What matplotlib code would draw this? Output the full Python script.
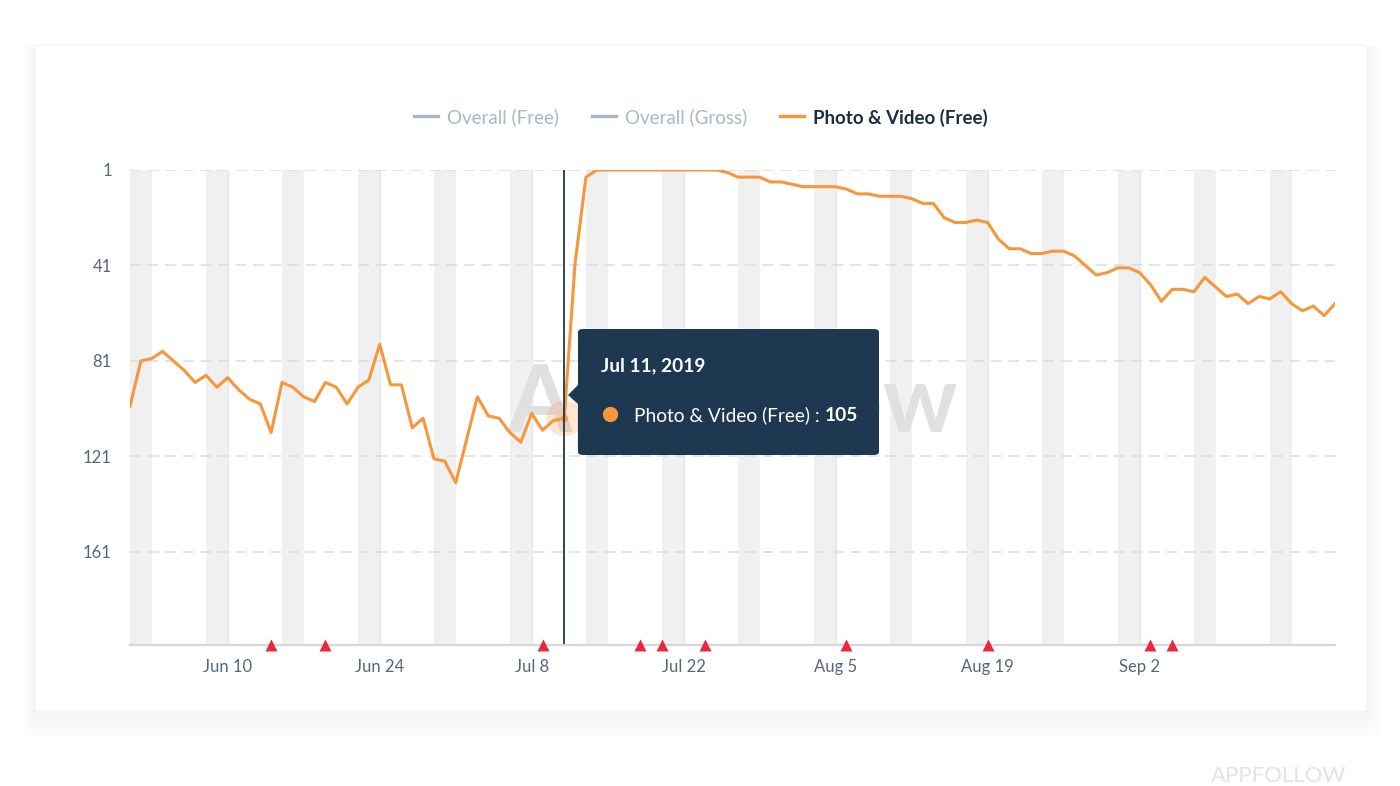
import matplotlib
matplotlib.use("Agg")
import matplotlib.pyplot as plt
from matplotlib.patches import FancyBboxPatch, Polygon
from matplotlib.lines import Line2D
import pandas as pd

plt.rcParams['font.family'] = ['Lato', 'DejaVu Sans']

# ---------------- data ----------------
start_date = "2019-06-01"
end_date = "2019-09-20"
ranks = [
    100, 81, 80, 77, 81, 85, 90, 87, 92, 88, 93, 97, 99, 111, 90, 92, 96, 98, 90, 92, 99, 92,
    89, 74, 91, 91, 109, 105, 122, 123, 132, 114, 96, 104, 105, 111, 115, 103, 110, 106, 105,
    40, 4,
    1, 1, 1, 1, 1, 1, 1, 1, 1, 1, 1, 1,
    2, 4, 4, 4, 6, 6, 7, 8, 8, 8, 8, 9, 11, 11, 12, 12, 12, 13, 15, 15,
    21, 23, 23, 22, 23, 30, 34, 34, 36, 36, 35, 35, 37, 41, 45, 44, 42, 42, 44, 49,
    56, 51, 51, 52, 46, 50, 54, 53, 57, 54, 55, 52, 57, 60, 58, 62, 57,
]
event_dates = ["2019-06-14", "2019-06-19", "2019-07-09", "2019-07-18", "2019-07-20",
               "2019-07-24", "2019-08-06", "2019-08-19", "2019-09-03", "2019-09-05"]
xtick_dates = ["2019-06-10", "2019-06-24", "2019-07-08", "2019-07-22",
               "2019-08-05", "2019-08-19", "2019-09-02"]
xtick_labels = ["Jun 10", "Jun 24", "Jul 8", "Jul 22", "Aug 5", "Aug 19", "Sep 2"]
ytick_values = [1, 41, 81, 121, 161]
legend_labels = ["Overall (Free)", "Overall (Gross)", "Photo & Video (Free)"]
tooltip_index = 40
series_name = "Photo & Video (Free)"

dates = pd.date_range(start_date, end_date, freq="D")

# ---------------- styles ----------------
W, H = 1400, 786
ORANGE = "#F7963B"
NAVY = "#1D3850"
TICK_C = "#56677D"
GREY_LEG = "#AAB6C9"

def fx(px):
    return px / W

def fy(py):
    return 1 - py / H

fig = plt.figure(figsize=(14, 7.86), dpi=100)
fig.patch.set_facecolor("white")

# card shadow (soft, mostly below)
for k in range(12):
    g = k * 2.0
    sh = FancyBboxPatch((fx(35 - g * 0.6), fy(712 + g * 1.3)), (1332 + 1.2 * g) / W,
                        (667 + g * 1.3) / H,
                        boxstyle="round,pad=0,rounding_size=0.008", transform=fig.transFigure,
                        fc="#000000", ec="none", alpha=0.0045, zorder=-3)
    fig.patches.append(sh)
card = FancyBboxPatch((fx(35), fy(712)), 1332 / W, 667 / H,
                      boxstyle="round,pad=0,rounding_size=0.004", transform=fig.transFigure,
                      fc="white", ec="#f4f4f4", lw=0.8, zorder=-1)
fig.patches.append(card)

ax = fig.add_axes([fx(130), fy(645), (1335 - 130) / W, (645 - 170) / H])
ax.patch.set_alpha(0)

# weekend bands
for d in dates:
    if d.weekday() == 5:
        ax.axvspan(d, d + pd.Timedelta(days=2), color="#F0F0F0", lw=0, zorder=0)

# vertical grid at ticks
xt = pd.to_datetime(xtick_dates)
for d in xt:
    ax.axvline(d, color="#E4E7EB", lw=1, zorder=0.5)

# horizontal dashed grid
for v in ytick_values:
    ax.axhline(v, color="#DCDCDC", lw=1.1, linestyle=(0, (7, 4.5)), zorder=0.6)

# watermark
ax.text(0.5, 0.505, "AppFollow", transform=ax.transAxes, ha="center", va="center",
        fontsize=67, fontweight="bold", color="#E0E0E0", zorder=1)

# series
ax.plot(dates, ranks, color=ORANGE, lw=2.2, zorder=3, solid_joinstyle="round")

# cursor
ax.axvline(dates[tooltip_index], color=NAVY, lw=1.3, zorder=4)
ax.plot(dates[tooltip_index], ranks[tooltip_index], "o", ms=26, color=ORANGE, alpha=0.22,
        mec="none", zorder=3.5)
ax.plot(dates[tooltip_index], ranks[tooltip_index], "o", ms=5, color=ORANGE, mec="none", zorder=3.6)

# events
ev = pd.to_datetime(event_dates)
ax.plot(ev, [200] * len(ev), "^", color="#E8283C", ms=9, mec="none", clip_on=False, zorder=6)

ax.set_xlim(dates[0], dates[-1])
ax.set_ylim(200, 1)
ax.set_xticks(xt)
ax.set_xticklabels(xtick_labels)
ax.set_yticks(ytick_values)
ax.set_yticklabels([str(v) for v in ytick_values])
ax.tick_params(axis="both", length=0, colors=TICK_C, labelsize=12)
ax.tick_params(axis="x", pad=10)
ax.tick_params(axis="y", pad=13)
for s in ["top", "right", "left"]:
    ax.spines[s].set_visible(False)
ax.spines["bottom"].set_color("#CFD8E3")
ax.spines["bottom"].set_linewidth(1.6)
ax.spines["bottom"].set_zorder(5)

# legend
leg_items = [(414, legend_labels[0], GREY_LEG, GREY_LEG, "normal"),
             (592, legend_labels[1], GREY_LEG, GREY_LEG, "normal"),
             (780, legend_labels[2], ORANGE, "#1B2D42", "bold")]
for x0, lab, lc, tc, fw in leg_items:
    fig.lines.append(Line2D([fx(x0), fx(x0 + 24)], [fy(116), fy(116)], transform=fig.transFigure,
                            color=lc, lw=2.4))
    fig.text(fx(x0 + 33), fy(116), lab, color=tc, fontsize=13.5, fontweight=fw,
             ha="left", va="center_baseline")

# tooltip
tip = FancyBboxPatch((fx(578), fy(455)), (879 - 578) / W, (455 - 329) / H,
                     boxstyle="round,pad=0,rounding_size=0.004", transform=fig.transFigure,
                     fc=NAVY, ec="none", zorder=10)
fig.patches.append(tip)
arrow = Polygon([[fx(579), fy(384)], [fx(568), fy(395)], [fx(579), fy(405)]], closed=True,
                transform=fig.transFigure, fc=NAVY, ec="none", zorder=10)
fig.patches.append(arrow)
tip_date = dates[tooltip_index].strftime("%b %-d, %Y")
fig.text(fx(601), fy(364), tip_date, color="white", fontsize=13.8, fontweight="bold",
         ha="left", va="center_baseline", zorder=11)
fig.lines.append(Line2D([fx(610)], [fy(414)], marker="o", ms=11, color=ORANGE, mec="none",
                        transform=fig.transFigure, zorder=11))
t1 = fig.text(fx(634), fy(414), series_name + " : ", color="white", fontsize=13.8,
              ha="left", va="center_baseline", zorder=11)
fig.canvas.draw()
bb = t1.get_window_extent()
fig.text(bb.x1 / W, fy(414), str(ranks[tooltip_index]), color="white", fontsize=13.8,
         fontweight="bold", ha="left", va="center_baseline", zorder=11)

# brand
fig.text(fx(1346), fy(776), "APPFOLLOW", color="#E3E3E3", fontsize=16, ha="right",
         va="center")

fig.savefig("out.png", dpi=100)
